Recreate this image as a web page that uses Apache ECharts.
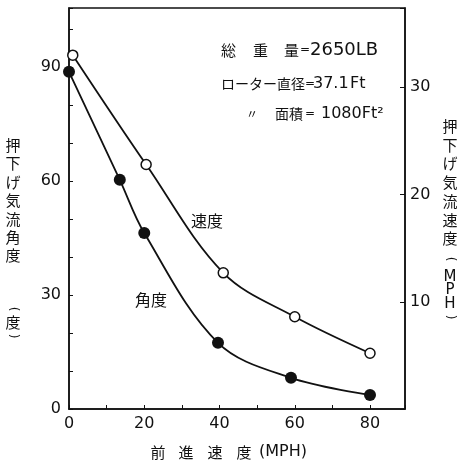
<!DOCTYPE html>
<html>
<head>
<meta charset="utf-8">
<script src="https://cdn.jsdelivr.net/npm/echarts@6/dist/echarts.min.js"></script>
<style>
  html, body { margin: 0; padding: 0; background: #fff; }
  #chart { width: 461px; height: 464px; }
</style>
</head>
<body>
<div id="chart"></div>
<script>
// 前進速度 (MPH)
var angleSpeed = [0, 13.5, 20, 39.6, 59, 80];
var angleValues = [88.7, 60.3, 46.3, 17.4, 8.2, 3.7];   // 押下げ気流角度 (度)
var flowSpeed = [1, 20.5, 41, 60, 80];
var flowValues = [33.0, 22.8, 12.7, 8.6, 5.2];          // 押下げ気流速度 (MPH)

var xTicks = [0, 20, 40, 60, 80];
var leftTicks = [0, 30, 60, 90];
var rightTicks = [10, 20, 30];

var leftTitle = ['押', '下', 'げ', '気', '流', '角', '度'];
var rightTitle = ['押', '下', 'げ', '気', '流', '速', '度'];
var rightUnit = ['M', 'P', 'H'];

var cjk = '"Noto Sans CJK JP", sans-serif';
var num = '"DejaVu Sans", sans-serif';

function pairs(xs, ys) {
  return xs.map(function (x, i) { return [x, ys[i]]; });
}

// テキスト1個分の graphic
function txt(s, x, y, font, align, lh) {
  return {
    type: 'text', x: x, y: y,
    style: {
      text: s, font: font, fill: '#111',
      align: align || 'left',
      verticalAlign: lh ? 'top' : 'middle',
      lineHeight: lh || undefined
    }
  };
}
// 縦書きの括弧 (横向きの括弧を90度回す)
function vparen(s, x, y) {
  var t = txt(s, x, y, '12px ' + num, 'center');
  t.rotation = -Math.PI / 2;
  return t;
}

var myChart = echarts.init(document.getElementById('chart'));
var option = {
  backgroundColor: '#fff',
  animation: false,
  grid: {
    left: 69,
    right: 56,
    top: 8,
    bottom: 55,
    show: true,
    borderColor: '#111',
    borderWidth: 1.5
  },
  xAxis: {
    type: 'value',
    min: 0,
    max: 89.3,
    interval: 10,
    splitLine: { show: false },
    axisLine: { lineStyle: { color: '#111', width: 1.5 } },
    axisTick: {
      inside: true,
      length: 4,
      lineStyle: { color: '#111' },
      interval: function (i, v) { return v % 20 === 0; }
    },
    axisLabel: {
      margin: 7,
      fontFamily: num,
      fontSize: 16,
      color: '#111',
      formatter: function (v) { return xTicks.indexOf(v) >= 0 ? String(v) : ''; }
    }
  },
  yAxis: [{
    type: 'value',
    position: 'left',
    min: 0,
    max: 105.5,
    interval: 10,
    splitLine: { show: false },
    axisLine: { show: true, lineStyle: { color: '#111', width: 1.5 } },
    axisTick: { inside: true, length: 4, lineStyle: { color: '#111' } },
    axisLabel: {
      margin: 8,
      fontFamily: num,
      fontSize: 16,
      color: '#111',
      formatter: function (v) { return leftTicks.indexOf(v) >= 0 ? String(v) : ''; }
    }
  }, {
    type: 'value',
    position: 'right',
    min: 0,
    max: 37.4,
    interval: 10,
    splitLine: { show: false },
    axisLine: { show: true, lineStyle: { color: '#111', width: 1.5 } },
    axisTick: { inside: true, length: 5, lineStyle: { color: '#111' } },
    axisLabel: {
      margin: 5,
      fontFamily: num,
      fontSize: 16,
      color: '#111',
      formatter: function (v) { return rightTicks.indexOf(v) >= 0 ? String(v) : ''; }
    }
  }],
  series: [{
    name: '角度',
    type: 'line',
    yAxisIndex: 0,
    data: pairs(angleSpeed, angleValues),
    smooth: 0.35,
    symbol: 'circle',
    symbolSize: 12,
    itemStyle: { color: '#111' },
    lineStyle: { color: '#111', width: 1.8 },
    z: 3
  }, {
    name: '速度',
    type: 'line',
    yAxisIndex: 1,
    data: pairs(flowSpeed, flowValues),
    smooth: 0.35,
    symbol: 'circle',
    symbolSize: 10,
    itemStyle: { color: '#fff', borderColor: '#111', borderWidth: 1.5 },
    lineStyle: { color: '#111', width: 1.8 },
    z: 3
  }],
  graphic: [
    // 軸名 (左)
    txt(leftTitle.join('\n'), 13, 136, '15px ' + cjk, 'center', 18.4),
    vparen('(', 13, 309),
    txt('度', 13, 322, '15px ' + cjk, 'center'),
    vparen(')', 13, 336),
    // 軸名 (右)
    txt(rightTitle.join('\n'), 450, 117, '15px ' + cjk, 'center', 18.7),
    vparen('(', 450, 259),
    txt(rightUnit.join('\n'), 450, 270, '15px ' + num, 'center', 13.5),
    vparen(')', 450, 317),
    // 軸名 (下)
    txt('前', 158, 452, '15px ' + cjk, 'center'),
    txt('進', 186, 452, '15px ' + cjk, 'center'),
    txt('速', 215, 452, '15px ' + cjk, 'center'),
    txt('度', 244, 452, '15px ' + cjk, 'center'),
    txt('(MPH)', 283, 452, '16px ' + num, 'center'),
    // 曲線名
    txt('速度', 207, 221, '16px ' + cjk, 'center'),
    txt('角度', 151, 300, '16px ' + cjk, 'center'),
    // 諸元
    txt('総', 221, 50, '15px ' + cjk),
    txt('重', 253, 50, '15px ' + cjk),
    txt('量', 284, 50, '15px ' + cjk),
    txt('=', 300, 50, '12px ' + num),
    txt('2650LB', 310, 50, '18px ' + num),
    txt('ローター', 221, 84, '14px ' + cjk),
    txt('直径', 277, 84, '14px ' + cjk),
    txt('=', 305, 84, '12px ' + num),
    txt('37.1', 313, 84, '16px ' + num),
    txt('Ft', 350, 84, '16px ' + num),
    txt('〃', 246, 114, '12px ' + cjk),
    txt('面積', 275, 114, '14px ' + cjk),
    txt('=', 305, 114, '12px ' + num),
    txt('1080Ft²', 321, 114, '16px ' + num)
  ]
};
myChart.setOption(option);
</script>
</body>
</html>
